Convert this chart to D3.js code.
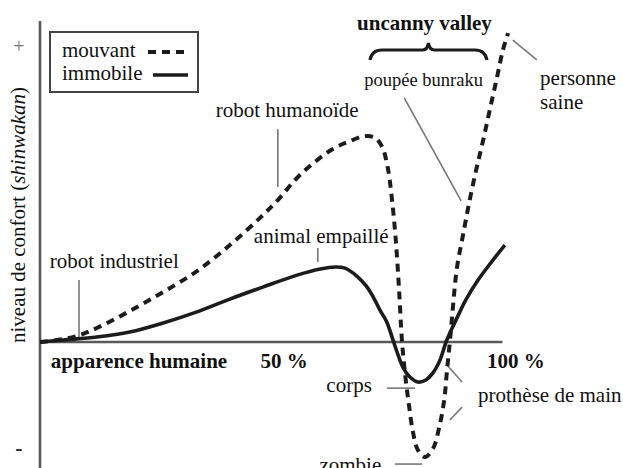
<!DOCTYPE html>
<html><head><meta charset="utf-8">
<script src="https://cdn.jsdelivr.net/npm/d3@7"></script>
<style>
html,body{margin:0;padding:0;background:#fff;}
svg{display:block;}
text{font-family:'Liberation Serif';font-weight:400;fill:#111;}
</style></head>
<body>
<svg id="chart" width="623" height="468"></svg>
<script>
// ---- data (x: apparence humaine %, y: niveau de confort) ----
const mouvantX = [0,4.9,8.5,12.1,19.1,26.2,33.4,40.4,46.8,50.6,55.3,62.3,66.0,69.1,71.3,72.8,74.0,74.9,75.7,76.4,77.0,77.7,78.5,79.4,80.4,81.9,83.6,84.9,86.0,86.6,87.2,87.9,88.7,90.0,91.3,92.8,94.3,95.7,97.2,98.5,99.6];
const mouvantY = [0,1.0,2.4,4.8,10.6,17.1,24.3,33.2,42.5,48.6,57.2,66.1,68.8,70.5,69.9,66.8,59.6,48.6,34.9,17.8,0.7,-11.3,-21.6,-31.2,-37.0,-39.4,-36.6,-29.5,-19.9,-9.6,0,12.7,25.3,36.6,47.6,58.9,69.2,79.5,90.4,100,105.8];
const immobileX = [0,4.9,12.1,19.1,26.2,33.4,40.4,47.4,54.7,59.6,62.8,64.9,67.4,69.4,70.9,72.3,73.8,75.1,76.2,77.2,78.7,80.4,82.1,83.6,85.1,86.4,87.7,89.0,90.6,93.2,96.2,98.9];
const immobileY = [0,0.7,1.7,3.4,6.5,10.3,14.7,18.8,22.9,25.0,25.7,25.3,22.6,19.2,15.4,11.0,6.8,0.7,-4.5,-8.6,-12.0,-13.7,-13.0,-10.6,-6.2,0,4.8,9.2,14.4,21.2,27.7,33.2];

const seriesNames = ["mouvant","immobile"];
const xTickLabels = ["apparence humaine","50 %","100 %"];
const xTickPos = [2.3, 46.9, 95.1];
const yTickLabels = ["+","-"];
const yTickPos = [101.5, -36.3];
const yAxisTitle = "niveau de confort ";
const yAxisTitleItalic = "shinwakan";

// annotations: label, x, y (data units), anchor
const annLabels = ["robot industriel","robot humanoïde","animal empaillé","poupée bunraku","personne","saine","corps","prothèse de main","zombie"];
const annX = [2.1,37.4,45.5,69.0,106.4,106.4,70.6,93.2,72.6];
const annY = [25.3,77.1,33.9,87.6,88.0,79.8,-17.1,-20.5,-44.5];
const annAnchor = ["start","start","start","start","start","start","end","start","end"];
// leader lines [x1,y1,x2,y2] data units
const leaders = [
  [8.3,21.2,8.3,1.7],
  [50.6,72.9,50.6,53.1],
  [59.1,32.2,59.1,27.4],
  [77.5,83.6,89.6,48.3],
  [100.6,103.4,105.7,96.6],
  [73.8,-15.8,79.8,-15.8],
  [75.5,-41.8,81.3,-41.8],
  [86.6,-7.9,89.8,-13.7],
  [89.8,-22.3,87.2,-26.7]
];
const valleyTitle = "uncanny valley";
const valleyFrom = 70.2, valleyTo = 95.1;

// ---- drawing ----
const svg = d3.select("#chart");
const x = d3.scaleLinear().domain([0,100]).range([40,510]);
const y = d3.scaleLinear().domain([0,100]).range([342,50]);
const FONT = "'Liberation Serif', Tinos, 'Nimbus Roman', 'Times New Roman', Times, serif";

// axes
svg.append("line").attr("x1",40).attr("x2",40).attr("y1",21).attr("y2",468)
  .attr("stroke","#5a5a5a").attr("stroke-width",2.6);
svg.append("line").attr("x1",39).attr("x2",x(98.4)).attr("y1",y(0)).attr("y2",y(0))
  .attr("stroke","#5a5a5a").attr("stroke-width",2.6);

// y tick symbols
svg.selectAll(".ytick").data(yTickLabels).enter().append("text")
  .attr("x",19).attr("y",(d,i)=>y(yTickPos[i]))
  .attr("text-anchor","middle").attr("dominant-baseline","central")
  .attr("font-family",FONT)
  .attr("font-size",(d,i)=> i===0?20:22)
  .style("fill",(d,i)=> i===0?"#777":"#222")
  .style("font-weight",(d,i)=> i===0?"normal":"bold")
  .text(d=>d);

// y title
const yt = svg.append("text").attr("transform",`translate(25,343) rotate(-90)`)
  .attr("font-family",FONT).attr("font-size",21);
yt.append("tspan").text(yAxisTitle + "(");
yt.append("tspan").style("font-style","italic").text(yAxisTitleItalic);
yt.append("tspan").text(")");

// x tick labels
svg.selectAll(".xtick").data(xTickLabels).enter().append("text")
  .attr("x",(d,i)=>x(xTickPos[i])).attr("y",368)
  .attr("font-family",FONT)
  .attr("font-size",21).style("font-weight","bold").text(d=>d);

// leader lines
svg.selectAll(".leader").data(leaders).enter().append("line")
  .attr("x1",d=>x(d[0])).attr("y1",d=>y(d[1]))
  .attr("x2",d=>x(d[2])).attr("y2",d=>y(d[3]))
  .attr("stroke","#777").attr("stroke-width",1.6);

// curves
const line = d3.line().x(d=>x(d[0])).y(d=>y(d[1])).curve(d3.curveCatmullRom.alpha(0.5));
const mouvant = mouvantX.map((v,i)=>[v,mouvantY[i]]);
const immobile = immobileX.map((v,i)=>[v,immobileY[i]]);
svg.append("path").datum(immobile).attr("d",line).attr("fill","none")
  .attr("stroke","#1c1c1c").attr("stroke-width",3.6);
svg.append("path").datum(mouvant).attr("d",line).attr("fill","none")
  .attr("stroke","#1c1c1c").attr("stroke-width",4).attr("stroke-dasharray","8,6");

// annotation labels
const ann = svg.selectAll(".ann").data(annLabels).enter().append("text")
  .attr("x",(d,i)=>x(annX[i])).attr("y",(d,i)=>y(annY[i]))
  .attr("font-family",FONT)
  .attr("text-anchor",(d,i)=>annAnchor[i])
  .attr("font-size",d=> d==="poupée bunraku" ? 18.5 : 21).text(d=>d);

// uncanny valley brace + title
const bx0 = x(valleyFrom), bx1 = x(valleyTo), bm = (bx0+bx1)/2;
const by = 50;
svg.append("path")
  .attr("d",`M${bx0},${by+10} Q${bx0+2},${by} ${bx0+12},${by} L${bm-6},${by} Q${bm-1},${by} ${bm},${by-7} Q${bm+1},${by} ${bm+6},${by} L${bx1-12},${by} Q${bx1-2},${by} ${bx1},${by+10}`)
  .attr("fill","none").attr("stroke","#1c1c1c").attr("stroke-width",3.2);
svg.append("text").attr("x",bm-4).attr("y",30).attr("text-anchor","middle")
  .attr("font-family",FONT)
  .attr("font-size",21).style("font-weight","bold").text(valleyTitle);

// legend
const lg = svg.append("g");
lg.append("rect").attr("x",50).attr("y",32).attr("width",148).attr("height",60)
  .attr("fill","#fff").attr("stroke","#444").attr("stroke-width",2);
lg.selectAll("text").data(seriesNames).enter().append("text")
  .attr("font-family",FONT)
  .attr("x",62).attr("y",(d,i)=>57+i*23).attr("font-size",21).text(d=>d);
lg.append("line").attr("x1",148).attr("x2",188).attr("y1",52).attr("y2",52)
  .attr("stroke","#1c1c1c").attr("stroke-width",4).attr("stroke-dasharray","8,6");
lg.append("line").attr("x1",153).attr("x2",188).attr("y1",75).attr("y2",75)
  .attr("stroke","#1c1c1c").attr("stroke-width",3.6);
</script>
</body></html>
